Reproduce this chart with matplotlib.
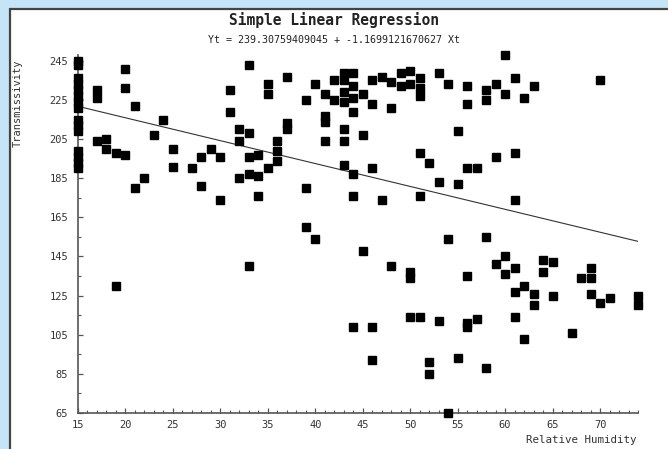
import matplotlib
matplotlib.use("Agg")
import matplotlib.pyplot as plt
import matplotlib.ticker as ticker
from matplotlib.patches import Rectangle

# Relative humidity (%) and transmissivity readings
humidity = [
    15, 15, 15, 15, 15, 15, 15, 15, 15, 15, 15, 15, 15, 15, 15,
    17, 17, 17, 18, 18, 19, 19, 20, 20, 20, 21, 21, 22, 23, 24,
    25, 25, 27, 28, 28, 29, 30, 30, 31, 31, 32, 32, 32,
    33, 33, 33, 33, 33, 34, 34, 34, 35, 35, 35, 36, 36, 36,
    37, 37, 37, 39, 39, 39, 40, 40, 41, 41, 41, 41, 42, 42,
    43, 43, 43, 43, 43, 43, 43, 44, 44, 44, 44, 44, 44, 44,
    45, 45, 45, 46, 46, 46, 46, 46, 47, 47, 48, 48, 48,
    49, 49, 50, 50, 50, 50, 50, 51, 51, 51, 51, 51, 51,
    52, 52, 52, 53, 53, 53, 54, 54, 54, 55, 55, 55,
    56, 56, 56, 56, 56, 56, 57, 57, 58, 58, 58, 58,
    59, 59, 59, 60, 60, 60, 60, 61, 61, 61, 61, 61, 61,
    62, 62, 62, 63, 63, 63, 64, 64, 65, 65, 67, 68,
    69, 69, 69, 70, 70, 71, 74, 74,
]
transmissivity = [
    245, 243, 236, 233, 230, 227, 224, 221, 215, 212, 209, 199, 196, 193, 190,
    230, 226, 204, 205, 200, 198, 130, 241, 231, 197, 222, 180, 185, 207, 215,
    200, 191, 190, 196, 181, 200, 196, 174, 230, 219, 210, 204, 185,
    243, 208, 196, 187, 140, 197, 186, 176, 233, 228, 190, 204, 199, 194,
    237, 213, 210, 225, 180, 160, 233, 154, 228, 217, 214, 204, 235, 225,
    239, 235, 229, 224, 210, 204, 192, 239, 232, 226, 219, 187, 176, 109,
    228, 207, 148, 235, 223, 190, 109, 92, 237, 174, 234, 221, 140,
    239, 232, 240, 233, 137, 134, 114, 236, 231, 227, 198, 176, 114,
    193, 91, 85, 239, 183, 112, 233, 154, 65, 209, 182, 93,
    232, 223, 190, 135, 111, 109, 190, 113, 230, 225, 155, 88,
    233, 196, 141, 248, 228, 145, 136, 236, 198, 174, 139, 127, 114,
    226, 130, 103, 232, 126, 120, 143, 137, 142, 125, 106, 134,
    139, 134, 126, 235, 121, 124, 125, 120,
]

# Regression coefficients
intercept = 239.30759409045
slope = -1.1699121670627
fit_x = [15, 74]

title = "Simple Linear Regression"
subtitle = "Yt = 239.30759409045 + -1.1699121670627 Xt"

W, H = 668, 449
fig = plt.figure(figsize=(W / 100, H / 100), dpi=100, facecolor="#c6e4f7")

# White panel with a dark border on the top and left
fig.patches.append(Rectangle((10 / W, -0.01), 1.0, (H - 9) / H + 0.01,
                             transform=fig.transFigure, facecolor="white",
                             edgecolor="#444444", linewidth=1.6, zorder=-1))

ax = fig.add_axes([78 / W, (H - 413) / H, 560 / W, 358 / H])
ax.set_facecolor("none")

ax.plot(humidity, transmissivity, linestyle="none", marker="s",
        markersize=5.4, color="black", clip_on=False, zorder=3)
ax.plot(fit_x, [intercept + slope * x for x in fit_x],
        color="#333333", linewidth=0.8, zorder=2)

ax.set_xlim(15, 74)
ax.set_ylim(65, 248)
ax.xaxis.set_major_locator(ticker.FixedLocator([15, 20, 25, 30, 35, 40, 45, 50, 55, 60, 65, 70]))
ax.xaxis.set_minor_locator(ticker.MultipleLocator(1))
ax.yaxis.set_major_locator(ticker.FixedLocator(list(range(65, 246, 20))))
ax.yaxis.set_minor_locator(ticker.FixedLocator(list(range(75, 246, 20))))

for side in ("top", "right"):
    ax.spines[side].set_visible(False)
for side in ("left", "bottom"):
    ax.spines[side].set_color("#555555")
    ax.spines[side].set_linewidth(1.2)

mono = "DejaVu Sans Mono"
ax.tick_params(which="major", direction="in", length=3.5, width=0.9,
               color="#555555", labelsize=7.5, labelcolor="#333333")
ax.tick_params(axis="y", which="major", pad=7)
ax.tick_params(axis="x", which="major", pad=5)
ax.tick_params(which="minor", direction="in", length=2, width=0.8, color="#555555")
for lbl in ax.get_xticklabels() + ax.get_yticklabels():
    lbl.set_family(mono)

fig.text(334 / W, 1 - 20 / H, title, ha="center", va="center",
         family=mono, fontsize=10.5, fontweight="bold", color="#222222")
fig.text(334 / W, 1 - 40 / H, subtitle, ha="center", va="center",
         family=mono, fontsize=7.2, color="#222222")
fig.text(18 / W, 1 - 103 / H, "Transmissivity", ha="center", va="center",
         rotation=90, family=mono, fontsize=7.5, color="#333333")
fig.text(637 / W, 1 - 440 / H, "Relative Humidity", ha="right", va="center",
         family=mono, fontsize=7.8, color="#333333")

fig.savefig("out.png", dpi=100, facecolor=fig.get_facecolor())
